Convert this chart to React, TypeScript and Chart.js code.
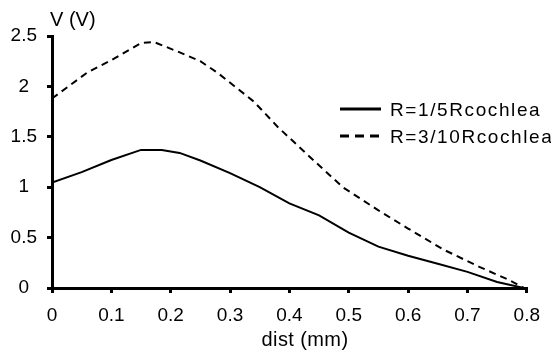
import React, { useEffect, useRef } from "react";
import { Chart, registerables } from "chart.js";

Chart.register(...registerables);

// Distance (mm) and potential (V) for R = 1/5 Rcochlea (solid)
const distSolid = [0, 0.05, 0.1, 0.15, 0.185, 0.215, 0.25, 0.3, 0.35, 0.4, 0.45, 0.5, 0.55, 0.6, 0.65, 0.7, 0.75, 0.795];
const vSolid = [1.045, 1.15, 1.27, 1.37, 1.37, 1.34, 1.265, 1.14, 1.0, 0.84, 0.72, 0.55, 0.41, 0.32, 0.24, 0.16, 0.06, 0];

// Distance (mm) and potential (V) for R = 3/10 Rcochlea (dashed)
const distDashed = [0, 0.06, 0.1, 0.15, 0.172, 0.21, 0.25, 0.28, 0.34, 0.38, 0.44, 0.49, 0.55, 0.6, 0.66, 0.72, 0.77, 0.795];
const vDashed = [1.88, 2.14, 2.26, 2.43, 2.44, 2.35, 2.25, 2.13, 1.85, 1.6, 1.27, 1.0, 0.77, 0.59, 0.38, 0.21, 0.08, 0];

const seriesLabels = ["R=1/5Rcochlea", "R=3/10Rcochlea"];
const xTicks = [0, 0.1, 0.2, 0.3, 0.4, 0.5, 0.6, 0.7, 0.8];
const yTicks = [0, 0.5, 1, 1.5, 2, 2.5];
const xTitle = "dist (mm)";
const yTitle = "V (V)";

const FONT = '"Liberation Sans", Arial, Helvetica, sans-serif';

const textPlugin = {
  id: "customText",
  afterDraw(chart: any) {
    const ctx = chart.ctx;
    const area = chart.chartArea;
    ctx.save();
    ctx.fillStyle = "#000";
    ctx.font = `20px ${FONT}`;
    ctx.textBaseline = "middle";
    ctx.textAlign = "left";
    ctx.fillText(yTitle, area.left - 2, 20);
    ctx.textAlign = "center";
    (ctx as any).letterSpacing = "0.4px";
    ctx.fillText(xTitle, 305, 340);
    (ctx as any).letterSpacing = "0px";
    // legend
    chart.data.datasets.forEach((ds: any, i: number) => {
      const y = 109 + i * 27;
      ctx.strokeStyle = "#000";
      ctx.lineWidth = 3;
      ctx.setLineDash(ds.borderDash && ds.borderDash.length ? [9, 6] : []);
      ctx.beginPath();
      ctx.moveTo(340, y);
      ctx.lineTo(381, y);
      ctx.stroke();
      ctx.setLineDash([]);
      ctx.font = `19px ${FONT}`;
      ctx.textAlign = "left";
      (ctx as any).letterSpacing = "1.6px";
      ctx.fillText(ds.label, 390, y + 2);
      (ctx as any).letterSpacing = "0px";
    });
    ctx.restore();
  },
};

const axisGrid = {
  display: true,
  drawOnChartArea: false,
  drawTicks: true,
  tickLength: 5,
  color: "#000",
  tickColor: "#000",
  lineWidth: 3,
  tickWidth: 3,
};

export default function App() {
  const ref = useRef<HTMLCanvasElement | null>(null);
  useEffect(() => {
    if (!ref.current) return;
    const chart = new Chart(ref.current, {
      type: "line",
      data: {
        datasets: [
          {
            label: seriesLabels[0],
            data: distSolid.map((d, i) => ({ x: d, y: vSolid[i] })),
            borderColor: "#000",
            borderWidth: 2,
            pointRadius: 0,
            tension: 0,
            fill: false,
          },
          {
            label: seriesLabels[1],
            data: distDashed.map((d, i) => ({ x: d, y: vDashed[i] })),
            borderColor: "#000",
            borderWidth: 2,
            borderDash: [7, 5],
            pointRadius: 0,
            tension: 0,
            fill: false,
          },
        ],
      },
      options: {
        responsive: false,
        animation: false,
        layout: { padding: { top: 36, right: 21, bottom: 0, left: 0 } },
        plugins: {
          legend: { display: false },
          tooltip: { enabled: false },
        },
        scales: {
          x: {
            type: "linear",
            min: 0,
            max: 0.8,
            afterFit: (s: any) => {
              s.height = 70;
            },
            afterBuildTicks: (s: any) => {
              s.ticks = xTicks.map((v) => ({ value: v }));
            },
            ticks: {
              color: "#000",
              font: { family: FONT, size: 19 },
              padding: 11,
              callback: (v: any) => String(v),
              maxRotation: 0,
            },
            grid: axisGrid,
            border: { display: true, color: "#000", width: 3 },
          },
          y: {
            type: "linear",
            min: 0,
            max: 2.5,
            afterFit: (s: any) => {
              s.width = 52;
            },
            afterBuildTicks: (s: any) => {
              s.ticks = yTicks.map((v) => ({ value: v }));
            },
            ticks: {
              color: "#000",
              font: { family: FONT, size: 19 },
              padding: 10,
              crossAlign: "center",
              callback: (v: any) => String(v),
            },
            grid: axisGrid,
            border: { display: true, color: "#000", width: 3 },
          },
        },
      },
      plugins: [textPlugin],
    });
    return () => chart.destroy();
  }, []);
  return (
    <canvas
      ref={ref}
      width={551}
      height={358}
      style={{ position: "absolute", left: 0, top: 0, width: 551, height: 358 }}
    />
  );
}
